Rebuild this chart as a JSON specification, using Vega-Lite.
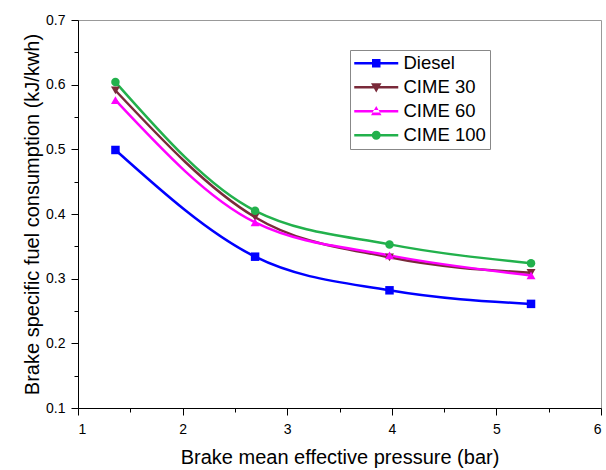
{
  "$schema": "https://vega.github.io/schema/vega-lite/v6.json",
  "width": 523,
  "height": 388,
  "autosize": {"type": "none"},
  "padding": {"left": 78, "top": 20, "right": 5, "bottom": 62},
  "background": "white",
  "config": {
    "font": "Liberation Sans",
    "view": {"stroke": "#999999", "strokeWidth": 1},
    "axis": {
      "domainColor": "black",
      "tickColor": "black",
      "labelColor": "black",
      "titleColor": "black",
      "labelFont": "Liberation Sans",
      "titleFont": "Liberation Sans",
      "labelFontSize": 14,
      "titleFontSize": 20,
      "titleFontWeight": "normal",
      "grid": false,
      "labelPadding": 6
    },
    "legend": {
      "labelFont": "Liberation Sans",
      "labelFontSize": 18.5,
      "labelColor": "black",
      "labelLimit": 300
    }
  },
  "data": {
    "values": [
      {"bmep": 1.358, "bsfc": 0.499, "fuel": "Diesel"},
      {"bmep": 2.693, "bsfc": 0.334, "fuel": "Diesel"},
      {"bmep": 3.978, "bsfc": 0.282, "fuel": "Diesel"},
      {"bmep": 5.331, "bsfc": 0.261, "fuel": "Diesel"},
      {"bmep": 1.358, "bsfc": 0.591, "fuel": "CIME 30"},
      {"bmep": 2.693, "bsfc": 0.395, "fuel": "CIME 30"},
      {"bmep": 3.978, "bsfc": 0.333, "fuel": "CIME 30"},
      {"bmep": 5.331, "bsfc": 0.309, "fuel": "CIME 30"},
      {"bmep": 1.358, "bsfc": 0.576, "fuel": "CIME 60"},
      {"bmep": 2.693, "bsfc": 0.387, "fuel": "CIME 60"},
      {"bmep": 3.978, "bsfc": 0.336, "fuel": "CIME 60"},
      {"bmep": 5.331, "bsfc": 0.305, "fuel": "CIME 60"},
      {"bmep": 1.358, "bsfc": 0.604, "fuel": "CIME 100"},
      {"bmep": 2.693, "bsfc": 0.405, "fuel": "CIME 100"},
      {"bmep": 3.978, "bsfc": 0.353, "fuel": "CIME 100"},
      {"bmep": 5.331, "bsfc": 0.324, "fuel": "CIME 100"}
    ]
  },
  "encoding": {
    "x": {
      "field": "bmep",
      "type": "quantitative",
      "scale": {"domain": [1, 6], "nice": false, "zero": false},
      "axis": {
        "title": "Brake mean effective pressure (bar)",
        "values": [1, 1.5, 2, 2.5, 3, 3.5, 4, 4.5, 5, 5.5, 6],
        "labelExpr": "datum.value % 1 === 0 ? format(datum.value, 'd') : ''",
        "tickSize": {"condition": {"test": "datum.value % 1 === 0", "value": 7}, "value": 4},
        "labelPadding": 7,
        "titlePadding": 11
      }
    },
    "y": {
      "field": "bsfc",
      "type": "quantitative",
      "scale": {"domain": [0.1, 0.7], "nice": false, "zero": false},
      "axis": {
        "title": "Brake specific fuel consumption (kJ/kwh)",
        "values": [0.1, 0.15, 0.2, 0.25, 0.3, 0.35, 0.4, 0.45, 0.5, 0.55, 0.6, 0.65, 0.7],
        "labelExpr": "abs(datum.value * 10 - round(datum.value * 10)) < 0.001 ? format(datum.value, '.1f') : ''",
        "tickSize": {"condition": {"test": "abs(datum.value * 10 - round(datum.value * 10)) < 0.001", "value": 7}, "value": 4},
        "labelPadding": 6,
        "titlePadding": 3
      }
    },
    "color": {
      "field": "fuel",
      "type": "nominal",
      "scale": {
        "domain": ["Diesel", "CIME 30", "CIME 60", "CIME 100"],
        "range": ["#0000ff", "#7a2a3a", "#ff00ff", "#22b14c"]
      },
      "legend": {
        "title": null,
        "orient": "none",
        "legendX": 272,
        "legendY": 30,
        "padding": 4,
        "strokeColor": "#888888",
        "fillColor": "white",
        "symbolSize": 100,
        "symbolStrokeWidth": 0,
        "symbolOffset": 13,
        "labelOffset": 18,
        "rowPadding": 5,
        "encode": {
          "symbols": {
            "update": {
              "shape": {"signal": "datum.value === 'Diesel' ? 'M-4.4,-0.25H4.4V0.25H-4.4Z M-0.85,-0.85H0.85V0.85H-0.85Z' : datum.value === 'CIME 30' ? 'M-4.4,-0.25H4.4V0.25H-4.4Z M-1.05,-0.8L1.05,-0.8L0,1.05Z' : datum.value === 'CIME 60' ? 'M-4.4,-0.25H4.4V0.25H-4.4Z M-1.05,0.8L1.05,0.8L0,-1.05Z' : 'M-4.4,-0.25H4.4V0.25H-4.4Z M-0.9,0A0.9,0.9,0,1,1,0.9,0A0.9,0.9,0,1,1,-0.9,0Z'"},
              "fill": {"signal": "datum.value === 'Diesel' ? '#0000ff' : datum.value === 'CIME 30' ? '#7a2a3a' : datum.value === 'CIME 60' ? '#ff00ff' : '#22b14c'"},
              "stroke": {"value": "transparent"},
              "opacity": {"value": 1}
            }
          }
        }
      }
    }
  },
  "layer": [
    {
      "mark": {"type": "line", "interpolate": "monotone", "strokeWidth": 2.5}
    },
    {
      "transform": [{"filter": "datum.fuel === 'Diesel'"}],
      "mark": {"type": "point", "filled": true, "opacity": 1, "size": 72, "shape": "square"}
    },
    {
      "transform": [{"filter": "datum.fuel === 'CIME 30'"}],
      "mark": {"type": "point", "filled": true, "opacity": 1, "size": 80, "shape": "triangle-down"}
    },
    {
      "transform": [{"filter": "datum.fuel === 'CIME 60'"}],
      "mark": {"type": "point", "filled": true, "opacity": 1, "size": 80, "shape": "triangle-up"}
    },
    {
      "transform": [{"filter": "datum.fuel === 'CIME 100'"}],
      "mark": {"type": "point", "filled": true, "opacity": 1, "size": 72, "shape": "circle"}
    }
  ]
}
